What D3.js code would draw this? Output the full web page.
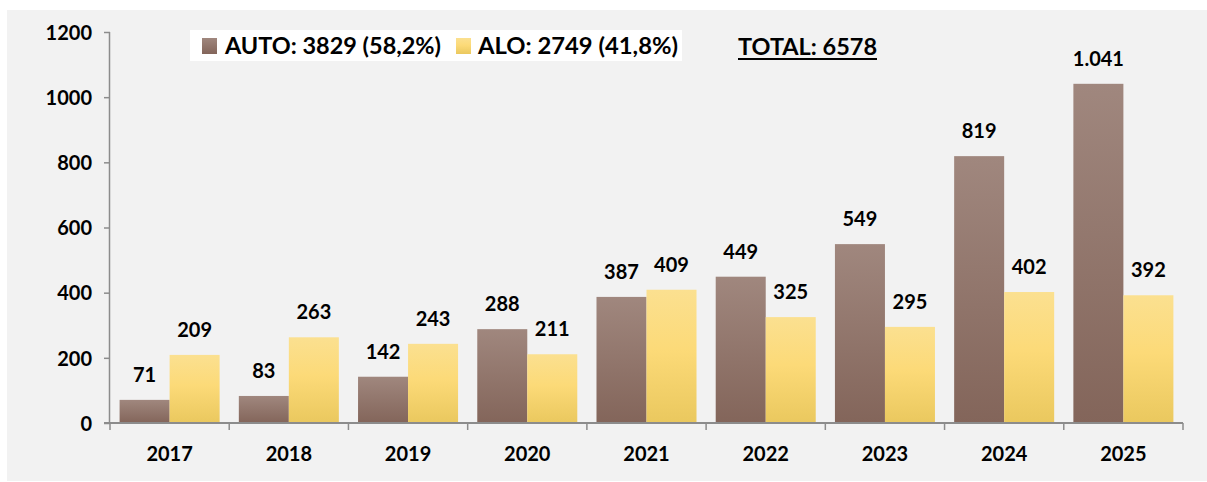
<!DOCTYPE html>
<html>
<head>
<meta charset="utf-8">
<script src="https://cdn.jsdelivr.net/npm/d3@7"></script>
<style>
  html, body { margin: 0; padding: 0; background: #ffffff; }
  svg { display: block; }
  text { font-family: Lato, "Open Sans", sans-serif; font-weight: 700; fill: #000; }
</style>
</head>
<body>
<svg id="chart" width="1207" height="482"></svg>
<script>
// Yearly counts per series
const years = ["2017", "2018", "2019", "2020", "2021", "2022", "2023", "2024", "2025"];
const autoValues = [71, 83, 142, 288, 387, 449, 549, 819, 1041];
const aloValues = [209, 263, 243, 211, 409, 325, 295, 402, 392];
const autoLabels = ["71", "83", "142", "288", "387", "449", "549", "819", "1.041"];
const aloLabels = ["209", "263", "243", "211", "409", "325", "295", "402", "392"];
const yTicks = [0, 200, 400, 600, 800, 1000, 1200];
const seriesNames = ["AUTO", "ALO"];
const legendTexts = ["AUTO: 3829 (58,2%)", "ALO: 2749 (41,8%)"];
const totalText = "TOTAL: 6578";

const svg = d3.select("#chart");

// Gradients for the two series
const defs = svg.append("defs");
const gAuto = defs.append("linearGradient").attr("id", "gAuto")
  .attr("x1", 0).attr("y1", 0).attr("x2", 0).attr("y2", 1);
gAuto.append("stop").attr("offset", "0%").attr("stop-color", "#a0877e");
gAuto.append("stop").attr("offset", "100%").attr("stop-color", "#83655a");
const gAlo = defs.append("linearGradient").attr("id", "gAlo")
  .attr("x1", 0).attr("y1", 0).attr("x2", 0).attr("y2", 1);
gAlo.append("stop").attr("offset", "0%").attr("stop-color", "#fbe090");
gAlo.append("stop").attr("offset", "45%").attr("stop-color", "#fcda78");
gAlo.append("stop").attr("offset", "100%").attr("stop-color", "#eac85e");
const fills = { AUTO: "url(#gAuto)", ALO: "url(#gAlo)" };

// Panel background
svg.append("rect").attr("x", 7).attr("y", 10).attr("width", 1200).attr("height", 471)
  .attr("fill", "#f2f2f2");

const plotLeft = 110, plotRight = 1183, plotTop = 32, plotBottom = 423;

const x = d3.scaleBand().domain(years).range([plotLeft, plotRight]).paddingInner(0).paddingOuter(0);
const x1 = d3.scaleBand().domain(seriesNames).range([0, x.bandwidth()]).paddingInner(0).paddingOuter(0.192);
const y = d3.scaleLinear().domain([0, 1200]).range([plotBottom, plotTop]);

const rows = years.map((yr, i) => ({
  year: yr,
  items: [
    { key: "AUTO", value: autoValues[i], label: autoLabels[i] },
    { key: "ALO", value: aloValues[i], label: aloLabels[i] }
  ]
}));

// Bars
const groups = svg.append("g").selectAll("g").data(rows).join("g")
  .attr("transform", d => `translate(${x(d.year)},0)`);
groups.selectAll("rect").data(d => d.items).join("rect")
  .attr("x", d => x1(d.key))
  .attr("y", d => y(d.value))
  .attr("width", x1.bandwidth())
  .attr("height", d => y(0) - y(d.value))
  .attr("fill", d => fills[d.key]);

// Value labels
groups.selectAll("text").data(d => d.items).join("text")
  .attr("x", d => x1(d.key) + x1.bandwidth() / 2)
  .attr("y", d => y(d.value) - 18)
  .attr("text-anchor", "middle")
  .style("font-size", "20px")
  .text(d => d.label);

// Y axis
const yAxis = svg.append("g").attr("transform", `translate(${plotLeft},0)`)
  .call(d3.axisLeft(y).tickValues(yTicks).tickSize(6).tickPadding(12).tickFormat(d3.format("d")));
yAxis.select(".domain").attr("stroke", "#8c8c8c").attr("stroke-width", 1.5).attr("d", `M-0.5,${plotTop}V${plotBottom}`);
yAxis.selectAll(".tick line").attr("stroke", "#8c8c8c").attr("stroke-width", 1.5);
yAxis.selectAll(".tick text").style("font-size", "20px").attr("dy", "0.36em");

// X axis with ticks at category boundaries
const xAxis = svg.append("g").attr("transform", `translate(0,${plotBottom})`);
xAxis.append("line").attr("x1", plotLeft - 6).attr("x2", plotRight).attr("y1", 0).attr("y2", 0)
  .attr("stroke", "#8c8c8c").attr("stroke-width", 2);
const boundaries = years.map(yr => x(yr)).concat([plotRight]);
xAxis.selectAll("line.b").data(boundaries).join("line").attr("class", "b")
  .attr("x1", d => d).attr("x2", d => d).attr("y1", 0).attr("y2", 7)
  .attr("stroke", "#8c8c8c").attr("stroke-width", 1.5);
xAxis.selectAll("text").data(years).join("text")
  .attr("x", d => x(d) + x.bandwidth() / 2)
  .attr("y", 38)
  .attr("text-anchor", "middle")
  .style("font-size", "20px")
  .text(d => d);

// Legend
const legend = svg.append("g");
legend.append("rect").attr("x", 190).attr("y", 30).attr("width", 492).attr("height", 31).attr("fill", "#ffffff");
const legendItems = [
  { key: "AUTO", sx: 202, tx: 225, w: 216 },
  { key: "ALO", sx: 456, tx: 478, w: 200 }
];
legendItems.forEach((it, i) => {
  legend.append("rect").attr("x", it.sx).attr("y", 38).attr("width", 15).attr("height", 16)
    .attr("fill", fills[it.key]);
  legend.append("text").attr("x", it.tx).attr("y", 54)
    .style("font-size", "22px")
    .attr("textLength", it.w).attr("lengthAdjust", "spacingAndGlyphs")
    .text(legendTexts[i]);
});

// Total
svg.append("text").attr("x", 738).attr("y", 55)
  .style("font-size", "22px")
  .attr("textLength", 139).attr("lengthAdjust", "spacingAndGlyphs")
  .text(totalText);
svg.append("line").attr("x1", 738).attr("x2", 877).attr("y1", 59).attr("y2", 59)
  .attr("stroke", "#000").attr("stroke-width", 2);
</script>
</body>
</html>
